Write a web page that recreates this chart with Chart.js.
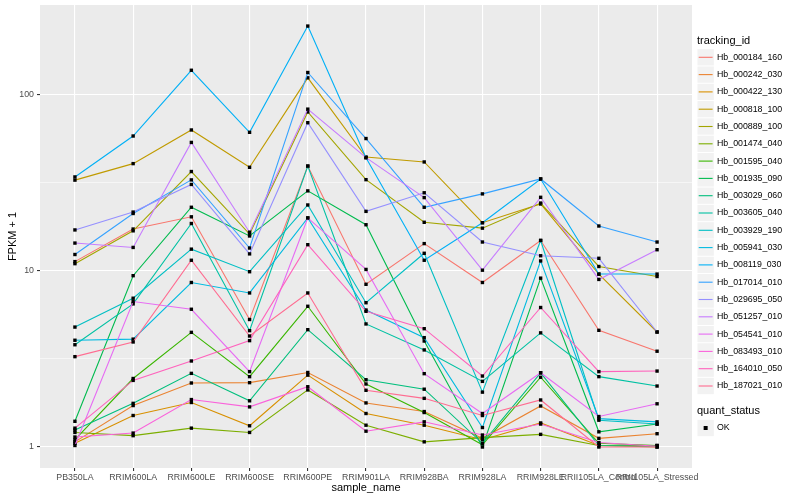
<!DOCTYPE html>
<html>
<head>
<meta charset="utf-8">
<script src="https://cdn.jsdelivr.net/npm/chart.js@4"></script>
<style>
  html, body { margin: 0; padding: 0; background: #ffffff; }
  #wrap { width: 800px; height: 500px; }
</style>
</head>
<body>
<div id="wrap"><canvas id="c" width="800" height="500"></canvas></div>
<script>
// ---- categories (x axis) ----
const categories = ["PB350LA", "RRIM600LA", "RRIM600LE", "RRIM600SE", "RRIM600PE", "RRIM901LA",
  "RRIM928BA", "RRIM928LA", "RRIM928LE", "RRII105LA_Control", "RRII105LA_Stressed"];

// ---- y ticks ----
const yMajorTicks = [1, 10, 100];
const yMinorTicks = [3.1623, 31.623];

// ---- series values (FPKM + 1) ----
const Hb_000184_160 = [11.3, 17.3, 20.3, 5.3, 39.4, 8.4, 14.3, 8.6, 14.9, 4.6, 3.5];
const Hb_000242_030 = [1.07, 1.72, 2.31, 2.32, 2.65, 1.78, 1.59, 1.12, 1.71, 1.12, 1.19];
const Hb_000422_130 = [1.05, 1.51, 1.79, 1.32, 2.56, 1.55, 1.33, 1.10, 1.37, 1.02, 1.02];
const Hb_000818_100 = [32.8, 40.7, 63.2, 38.8, 125, 44.4, 41.6, 18.8, 24.0, 9.6, 4.5];
const Hb_000889_100 = [11.0, 16.9, 36.7, 16.2, 80, 33.0, 18.9, 17.5, 24.3, 10.6, 9.3];
const Hb_001474_040 = [1.21, 1.16, 1.28, 1.21, 2.11, 1.33, 1.07, 1.13, 1.18, 1.02, 1.0];
const Hb_001595_040 = [1.10, 2.45, 4.48, 2.51, 6.3, 2.28, 1.57, 1.03, 2.49, 1.05, 1.02];
const Hb_001935_090 = [1.40, 9.4, 23.0, 15.8, 28.5, 18.3, 4.0, 1.0, 9.1, 1.22, 1.35];
const Hb_003029_060 = [1.25, 1.77, 2.62, 1.83, 4.64, 2.41, 2.13, 1.05, 2.64, 1.02, 1.01];
const Hb_003605_040 = [3.81, 6.5, 18.6, 4.58, 39.4, 5.0, 3.56, 2.36, 4.45, 2.51, 2.22];
const Hb_003929_190 = [4.80, 7.0, 13.3, 9.9, 23.7, 6.6, 12.6, 2.05, 14.9, 1.42, 1.35];
const Hb_005941_030 = [4.04, 4.1, 8.6, 7.5, 20.0, 6.0, 4.18, 1.29, 11.4, 1.45, 1.39];
const Hb_008119_030 = [34.2, 58.4, 138, 61.3, 246, 44.0, 11.5, 18.8, 33.3, 9.6, 9.6];
const Hb_017014_010 = [12.4, 21.2, 32.9, 13.5, 134, 56.5, 23.0, 27.4, 33.3, 18.0, 14.6];
const Hb_029695_050 = [17.1, 21.6, 31.0, 12.5, 69.5, 21.8, 27.8, 14.6, 12.2, 11.8, 4.5];
const Hb_051257_010 = [14.4, 13.6, 53.7, 16.6, 83, 44.0, 26.1, 10.1, 26.2, 8.95, 13.2];
const Hb_054541_010 = [1.02, 6.7, 6.06, 2.68, 20.0, 10.2, 2.61, 1.55, 2.64, 1.49, 1.76];
const Hb_083493_010 = [1.14, 1.20, 1.86, 1.69, 2.20, 1.23, 1.39, 1.17, 1.35, 1.06, 1.01];
const Hb_164010_050 = [1.28, 2.39, 3.08, 4.02, 14.1, 5.9, 4.7, 2.53, 6.2, 2.68, 2.7];
const Hb_187021_010 = [3.26, 3.95, 11.5, 4.27, 7.5, 2.10, 1.89, 1.51, 1.85, 1.0, 1.0];

const trackingIds = ["Hb_000184_160", "Hb_000242_030", "Hb_000422_130", "Hb_000818_100", "Hb_000889_100",
  "Hb_001474_040", "Hb_001595_040", "Hb_001935_090", "Hb_003029_060", "Hb_003605_040",
  "Hb_003929_190", "Hb_005941_030", "Hb_008119_030", "Hb_017014_010", "Hb_029695_050",
  "Hb_051257_010", "Hb_054541_010", "Hb_083493_010", "Hb_164010_050", "Hb_187021_010"];
const seriesValues = [Hb_000184_160, Hb_000242_030, Hb_000422_130, Hb_000818_100, Hb_000889_100,
  Hb_001474_040, Hb_001595_040, Hb_001935_090, Hb_003029_060, Hb_003605_040,
  Hb_003929_190, Hb_005941_030, Hb_008119_030, Hb_017014_010, Hb_029695_050,
  Hb_051257_010, Hb_054541_010, Hb_083493_010, Hb_164010_050, Hb_187021_010];
const palette = ["#F8766D", "#EA8331", "#D89000", "#C09B00", "#A3A500", "#7CAE00", "#39B600", "#00BB4E",
  "#00BF7D", "#00C1A3", "#00BFC4", "#00BAE0", "#00B0F6", "#35A2FF", "#9590FF", "#C77CFF",
  "#E76BF3", "#FA62DB", "#FF62BC", "#FF6C91"];

const FONT = '"Liberation Sans", Arial, Helvetica, sans-serif';
const N = trackingIds.length;

const datasets = trackingIds.map((id, i) => ({
  label: id,
  data: seriesValues[i].map((v, j) => ({ x: j, y: v })),
  borderColor: palette[i],
  backgroundColor: palette[i],
  borderWidth: 1.1,
  pointStyle: 'rect',
  pointRadius: 2.4,
  pointBorderWidth: 0,
  pointBackgroundColor: '#000000',
  pointBorderColor: '#000000',
  tension: 0,
  order: N - i
}));

const panelBg = {
  id: 'panelBg',
  beforeDraw(chart) {
    const a = chart.chartArea, ctx = chart.ctx;
    ctx.save();
    ctx.fillStyle = '#EBEBEB';
    ctx.fillRect(a.left, a.top, a.right - a.left, a.bottom - a.top);
    ctx.restore();
  }
};

const ggLegend = {
  id: 'ggLegend',
  afterDraw(chart) {
    const ctx = chart.ctx;
    const x0 = 697, key = 17.3;
    ctx.save();
    ctx.textBaseline = 'middle';
    ctx.textAlign = 'left';
    ctx.fillStyle = '#000000';
    ctx.font = '11px ' + FONT;
    ctx.fillText('tracking_id', x0, 40.5);
    chart.data.datasets.forEach((ds, i) => {
      const cy = 57.3 + i * key;
      ctx.fillStyle = '#F2F2F2';
      ctx.fillRect(x0 + 0.5, cy - key / 2 + 0.5, key - 1, key - 1);
      ctx.strokeStyle = ds.borderColor;
      ctx.lineWidth = 1.1;
      ctx.beginPath();
      ctx.moveTo(x0 + 1.7, cy);
      ctx.lineTo(x0 + key - 1.7, cy);
      ctx.stroke();
      ctx.fillStyle = '#000000';
      ctx.font = '8.8px ' + FONT;
      ctx.fillText(ds.label, x0 + 20, cy);
    });
    ctx.font = '11px ' + FONT;
    ctx.fillText('quant_status', x0, 411);
    const cy = 428;
    ctx.fillStyle = '#F2F2F2';
    ctx.fillRect(x0 + 0.5, cy - key / 2 + 0.5, key - 1, key - 1);
    ctx.fillStyle = '#000000';
    ctx.fillRect(x0 + key / 2 - 2, cy - 2, 4, 4);
    ctx.font = '8.8px ' + FONT;
    ctx.fillText('OK', x0 + 20, cy);
    ctx.restore();
  }
};

new Chart(document.getElementById('c'), {
  type: 'line',
  data: { datasets },
  options: {
    responsive: false,
    animation: false,
    events: [],
    layout: { padding: { left: 0, right: 108, top: 5, bottom: 0 } },
    plugins: { legend: { display: false }, tooltip: { enabled: false } },
    scales: {
      x: {
        type: 'linear',
        min: -0.6,
        max: categories.length - 1 + 0.6,
        afterBuildTicks(scale) { scale.ticks = categories.map((_, i) => ({ value: i })); },
        afterFit(scale) { scale.height = 32; scale.paddingLeft = 0; scale.paddingRight = 0; },
        ticks: {
          autoSkip: false, maxRotation: 0, minRotation: 0, padding: 1,
          color: '#4D4D4D', font: { family: FONT, size: 8.8 },
          callback: (v) => categories[v] !== undefined ? categories[v] : ''
        },
        grid: { color: '#FFFFFF', lineWidth: 1.1, tickLength: 3, tickColor: '#333333', drawOnChartArea: true },
        border: { display: false },
        title: { display: true, text: 'sample_name', color: '#000000',
          font: { family: FONT, size: 11 }, padding: { top: 0, bottom: 5 } }
      },
      y: {
        type: 'logarithmic',
        min: 0.76,
        max: 324,
        afterBuildTicks(scale) {
          scale.ticks = yMajorTicks.concat(yMinorTicks).sort((a, b) => a - b).map(v => ({ value: v }));
        },
        afterFit(scale) { scale.width = 40; scale.paddingTop = 0; scale.paddingBottom = 0; },
        ticks: {
          padding: 3, color: '#4D4D4D', font: { family: FONT, size: 8.8 },
          callback: (v) => yMajorTicks.includes(v) ? String(v) : ''
        },
        grid: {
          color: '#FFFFFF',
          lineWidth: (ctx) => (ctx.tick && yMajorTicks.includes(ctx.tick.value)) ? 1.1 : 0.55,
          tickLength: 3,
          tickColor: (ctx) => (ctx.tick && yMajorTicks.includes(ctx.tick.value)) ? '#333333' : 'rgba(0,0,0,0)'
        },
        border: { display: false },
        title: { display: true, text: 'FPKM + 1', color: '#000000',
          font: { family: FONT, size: 11 }, padding: { top: 6, bottom: 0 } }
      }
    }
  },
  plugins: [panelBg, ggLegend]
});
</script>
</body>
</html>
